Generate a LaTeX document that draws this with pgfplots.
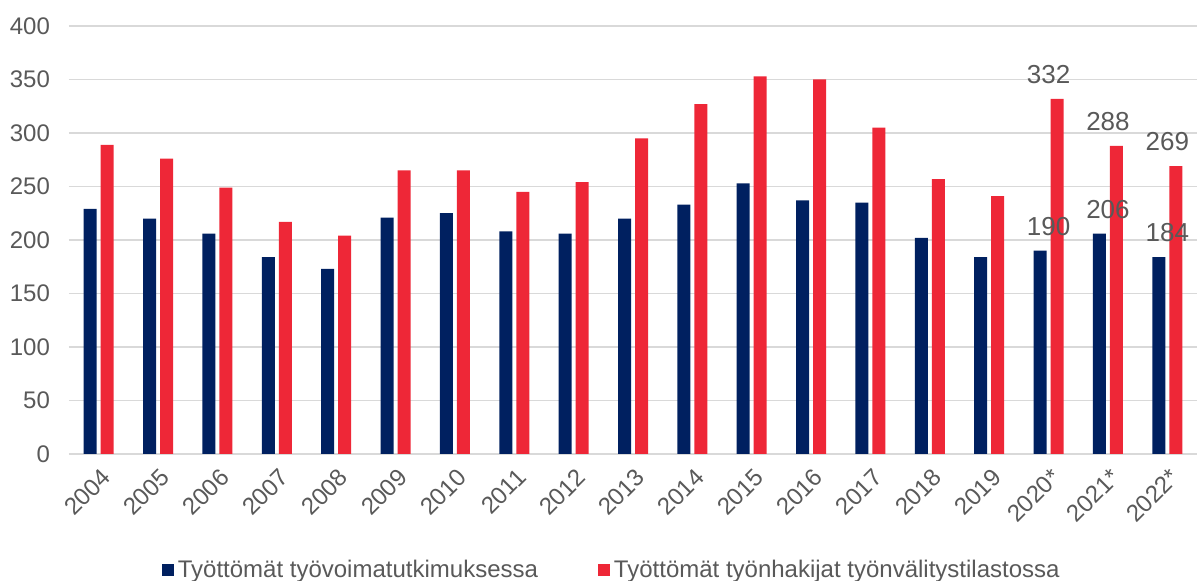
\documentclass[border=0pt]{standalone}
\usepackage{pgfplots}
\pgfplotsset{compat=1.18}
\usepackage{fontspec}
\setmainfont{Liberation Sans}
\definecolor{navybar}{RGB}{0,32,96}
\definecolor{redbar}{RGB}{238,39,55}
\definecolor{txtgray}{RGB}{89,89,89}
\definecolor{gridgray}{RGB}{217,217,217}
\begin{document}
\begin{tikzpicture}
\useasboundingbox (-34.5pt,-63.5pt) rectangle (565.5pt,227pt);
\begin{axis}[
    scale only axis,
    width=564pt, height=214pt,
    xmin=-0.5, xmax=18.5,
    ymin=0, ymax=400,
    ytick distance=50,
    xtick=data,
    xticklabels={2004,2005,2006,2007,2008,2009,2010,2011,2012,2013,2014,2015,2016,2017,2018,2019,2020*,2021*,2022*},
    major tick length=0pt,
    axis line style={draw=none},
    ymajorgrids,
    grid style={gridgray, line width=0.8pt},
    tick label style={font=\fontsize{12}{14}\selectfont, text=txtgray},
    /pgf/number format/assume math mode=true,
    yticklabel style={xshift=-6pt},
    xticklabel style={rotate=45, anchor=north east, inner sep=1pt, yshift=-4pt, xshift=-3pt},
    bar width=6.5pt,
    legend style={at={(0.482,-0.271)}, anchor=center, draw=none, font=\fontsize{12}{14}\selectfont, text=txtgray, legend columns=2, /tikz/every even column/.append style={column sep=28pt}},
    legend image code/.code={\fill[#1] (0pt,-3pt) rectangle (6pt,3pt);},
    nodes near coords style={font=\fontsize{13}{15}\selectfont, text=txtgray, anchor=south, yshift=4pt},
]
\addplot[ybar, bar shift=-4.25pt, fill=navybar, draw=none] coordinates {
    (0,229) (1,220) (2,206) (3,184) (4,173) (5,221) (6,225) (7,208) (8,206) (9,220)
    (10,233) (11,253) (12,237) (13,235) (14,202) (15,184) (16,190) (17,206) (18,184)
};
\addplot[ybar, bar shift=4.25pt, fill=redbar, draw=none] coordinates {
    (0,289) (1,276) (2,249) (3,217) (4,204) (5,265) (6,265) (7,245) (8,254) (9,295)
    (10,327) (11,353) (12,350) (13,305) (14,257) (15,241) (16,332) (17,288) (18,269)
};
\legend{Työttömät työvoimatutkimuksessa, Työttömät työnhakijat työnvälitystilastossa}
\addplot[ybar, bar shift=-4.25pt, draw=none, fill=none, forget plot, nodes near coords] coordinates {
    (16,190) (17,206) (18,184)
};
\addplot[ybar, bar shift=4.25pt, draw=none, fill=none, forget plot, nodes near coords] coordinates {
    (16,332) (17,288) (18,269)
};
\end{axis}
\end{tikzpicture}
\end{document}
